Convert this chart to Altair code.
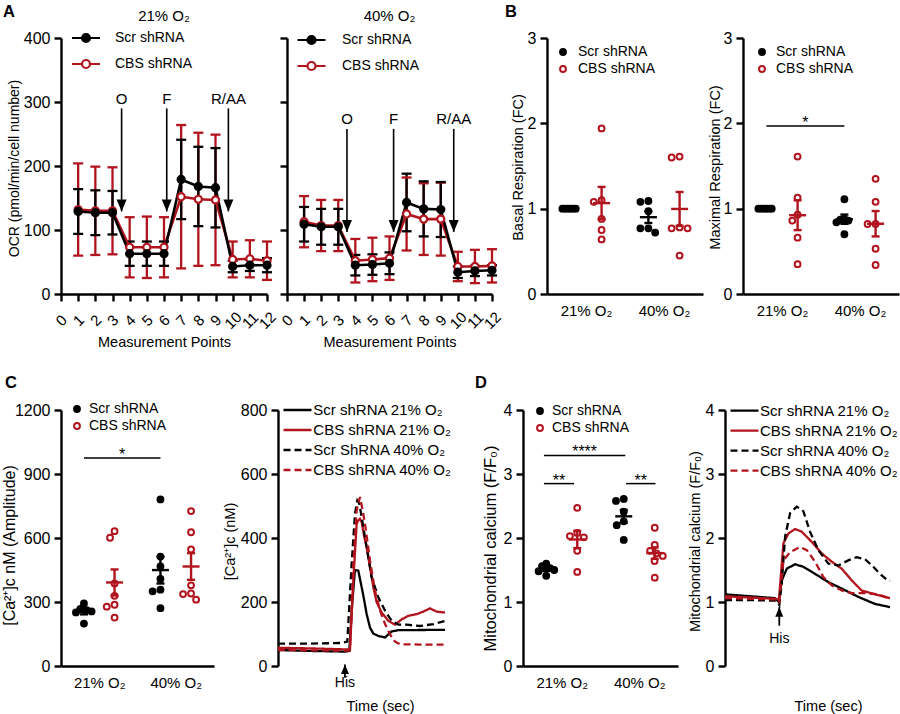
import math
import altair as alt
import pandas as pd

FONT = "Liberation Sans"
RED = "#b2141e"
BLACK = "#000000"
H = 256
GRP = ["Scr shRNA", "CBS shRNA"]
OFF = 0.2

# ---------------- A: OCR (Seahorse) ----------------
meas_points = list(range(1, 13))
ocr21_scr_mean = [129, 127, 127, 63, 63, 63, 179, 168, 166, 43, 45, 45]
ocr21_scr_err = [35, 35, 34, 19, 19, 19, 62, 62, 62, 9, 9, 11]
ocr21_cbs_mean = [132, 130, 130, 73, 73, 73, 152, 148, 147, 54, 55, 52]
ocr21_cbs_err = [72, 69, 68, 47, 48, 47, 112, 104, 102, 28, 29, 30]
ocr40_scr_mean = [109, 105, 105, 45, 46, 48, 143, 133, 132, 34, 36, 37]
ocr40_scr_err = [27, 28, 28, 16, 16, 17, 45, 43, 43, 9, 8, 8]
ocr40_cbs_mean = [113, 107, 107, 52, 54, 56, 125, 117, 117, 43, 43, 44]
ocr40_cbs_err = [40, 40, 40, 34, 34, 34, 57, 56, 57, 23, 26, 26]
inj_labels = ["O", "F", "R/AA"]
inj21_x = [3.53, 6.16, 9.75]
inj40_x = [3.51, 6.24, 9.76]
inj21_top, inj21_tip, inj21_lab = 290, 129, 304
inj40_top, inj40_tip, inj40_lab = 258, 97, 273

# ---------------- B: respiration fold change ----------------
basal_scr21 = [1.0, 1.0, 1.0, 1.0, 1.0, 1.0]
basal_cbs21 = [1.94, 1.10, 1.08, 0.88, 0.75, 0.64]
basal_scr40 = [1.09, 1.08, 0.97, 0.77, 0.77, 0.72]
basal_cbs40 = [1.61, 1.60, 0.78, 0.77, 0.77, 0.45]
max_scr21 = [1.0, 1.0, 1.0, 1.0, 1.0, 1.0]
max_cbs21 = [1.61, 1.13, 0.93, 0.86, 0.66, 0.35]
max_scr40 = [1.11, 0.88, 0.87, 0.86, 0.84, 0.70]
max_cbs40 = [1.35, 1.08, 0.82, 0.82, 0.53, 0.34]

# ---------------- C: cytosolic calcium ----------------
ca_scr21 = [293, 267, 262, 256, 251, 199]
ca_cbs21 = [632, 601, 387, 329, 287, 278, 227]
ca_scr40 = [781, 513, 467, 408, 358, 350, 271]
ca_cbs40 = [726, 627, 546, 378, 340, 337, 311]

c_scr21_t = [0, 20, 40, 42.7, 44.5, 46.1, 48.1, 49.1, 51.1, 53.1, 55.1, 57.1, 60.1, 64.1, 66.1, 68.1, 72.1, 100]
c_scr21_v = [50, 47, 45, 47, 200, 300, 298, 272, 220, 162, 120, 101, 94, 89, 99, 108, 112, 113]
c_cbs21_t = [0, 20, 40, 43.1, 45.1, 47.1, 48.1, 49.1, 50.1, 51.7, 53.1, 55.1, 57.1, 59.1, 62.1, 66.1, 70.1, 74.1, 78.1, 83, 87, 91, 95, 100]
c_cbs21_v = [57, 55, 52, 52, 267, 444, 455, 460, 450, 402, 371, 308, 246, 199, 167, 141, 129, 146, 157, 162, 170, 180, 170, 167]
c_scr40_t = [0, 20, 38, 41.5, 44.1, 46.1, 47.5, 48.7, 50.1, 53.1, 56.1, 60.1, 64.1, 68.1, 72.1, 77.1, 85, 93.1, 100]
c_scr40_v = [70, 70, 72, 76, 319, 476, 517, 507, 465, 371, 277, 214, 173, 141, 129, 129, 125, 131, 141]
c_cbs40_t = [0, 20, 40, 43.1, 45.1, 47.1, 49.1, 50.7, 52.1, 55.1, 58.1, 61.1, 64.1, 67.1, 70.1, 73.1, 85, 100]
c_cbs40_v = [50, 49, 48, 49, 319, 486, 528, 486, 444, 329, 235, 173, 131, 99, 76, 68, 67, 67]
c_names = ["Scr shRNA 21% O₂", "CBS shRNA 21% O₂", "Scr ShRNA 40% O₂", "CBS shRNA 40% O₂"]
c_his = (40.1, 5, -37, -53)

# ---------------- D: mitochondrial calcium ----------------
mito_scr21 = [1.60, 1.56, 1.53, 1.50, 1.48, 1.41]
mito_cbs21 = [2.47, 2.08, 2.03, 2.01, 1.80, 1.47]
mito_scr40 = [2.61, 2.58, 2.41, 2.26, 2.20, 1.97]
mito_cbs40 = [2.16, 1.89, 1.80, 1.76, 1.72, 1.64, 1.38]

d_scr21_t = [0, 10, 20, 29.9, 32.3, 34, 37, 41.9, 46.9, 53.9, 61.9, 69.9, 79.8, 89.8, 98.8]
d_scr21_v = [1.12, 1.10, 1.08, 1.06, 1.0, 1.34, 1.52, 1.59, 1.55, 1.44, 1.31, 1.21, 1.08, 0.97, 0.92]
d_cbs21_t = [0, 15, 30, 32.3, 35, 38, 41.9, 45.9, 51.9, 57.9, 63.9, 69.9, 75.8, 81.8, 89.8, 98.8]
d_cbs21_v = [1.09, 1.07, 1.05, 1.04, 1.92, 2.07, 2.14, 2.10, 1.94, 1.76, 1.63, 1.52, 1.34, 1.18, 1.12, 1.06]
d_scr40_t = [0, 15, 30, 32.5, 34, 36, 39, 43, 46.9, 50.9, 55.9, 61.9, 67.9, 73.8, 78.8, 83.8, 88.8, 92.8, 96.8, 98.8]
d_scr40_v = [1.03, 1.03, 1.02, 0.95, 1.3, 2.02, 2.39, 2.49, 2.42, 2.10, 1.81, 1.60, 1.57, 1.65, 1.70, 1.67, 1.55, 1.44, 1.35, 1.33]
d_cbs40_t = [0, 15, 30, 32.5, 35, 39, 45, 49, 53.9, 58.9, 63.9, 69.9, 75.8, 83.8, 91.8, 98.8]
d_cbs40_v = [1.06, 1.05, 1.04, 1.0, 1.65, 1.78, 1.86, 1.81, 1.63, 1.39, 1.26, 1.18, 1.14, 1.14, 1.12, 1.05]
d_names = ["Scr shRNA 21% O₂", "CBS shRNA 21% O₂", "Scr shRNA 40% O₂", "CBS shRNA 40% O₂"]
d_his = (32.5, 0.92, 0.63, 0.42)

ARROW_DOWN = "M-1,-1.2L1,-1.2L0,1.2Z"
ARROW_UP = "M-1,1.2L1,1.2L0,-1.2Z"
SYM_LINE_DOT = "M-2.8,0L-0.8,0M0.8,0L2.8,0M0.8,0A0.8,0.8,0,1,1,-0.8,0A0.8,0.8,0,1,1,0.8,0Z"
SYM_LINE = "M-2.8,0L2.8,0"


def legend(lx, ly, stype, ssize, sw, loff, rpad, fs=14):
    return alt.Legend(orient="none", legendX=lx, legendY=ly, title=None,
                      symbolType=stype, symbolSize=ssize, symbolStrokeWidth=sw,
                      labelOffset=loff, rowPadding=rpad, padding=0,
                      labelFont=FONT, labelFontSize=fs, labelColor="black",
                      labelLimit=300)


def label_text(text, x, y, size=15, weight="normal", align="left", baseline="alphabetic"):
    return alt.Chart(pd.DataFrame({"t": [text]})).mark_text(
        font=FONT, fontSize=size, fontWeight=weight, align=align,
        baseline=baseline, color="black").encode(
        text="t:N", x=alt.value(x), y=alt.value(y))


def yaxis(values, title=None, tx=0, ty=0, tfs=14.5, labels=True, fmt=None):
    kw = dict(values=values, tickSize=7, labelPadding=4)
    if fmt:
        kw["format"] = fmt
    if title is None:
        kw["title"] = None
    else:
        kw.update(title=title, titleX=tx, titleY=ty, titleAngle=270,
                  titleAlign="center", titleBaseline="middle", titleFontSize=tfs)
    if not labels:
        kw["labels"] = False
    return alt.Axis(**kw)


def spacer(w):
    return alt.Chart(pd.DataFrame({"z": [0]})).mark_point(opacity=0).encode(
        x=alt.value(0), y=alt.value(0)).properties(width=w, height=H)


def swarm(vals, ppu, d=8.0, cap=8.0):
    n = len(vals)
    order = sorted(range(n), key=lambda i: -vals[i])
    placed = []
    xs = [0.0] * n
    for i in order:
        y = vals[i] * ppu
        cands = [0.0]
        for px, py in placed:
            dy = abs(py - y)
            if dy < d:
                dx = math.sqrt(d * d - dy * dy)
                cands += [px - dx, px + dx]
        cands.sort(key=lambda c: (round(abs(c), 6), c))
        for c in cands:
            if all((c - px) ** 2 + (y - py) ** 2 >= d * d - 1e-6 for px, py in placed):
                xs[i] = c
                break
        placed.append((xs[i], y))
    m = max(abs(x) for x in xs)
    if m > cap:
        xs = [x * cap / m for x in xs]
    return xs


def ocr_panel(scr_m, scr_e, cbs_m, cbs_e, W, inj_x, top, tip, laby, title,
              yax, leg, extra):
    rows, caps = [], []
    for grp, m, e, col in [(GRP[1], cbs_m, cbs_e, RED), (GRP[0], scr_m, scr_e, BLACK)]:
        for p, mm, ee in zip(meas_points, m, e):
            rows.append(dict(pt=p, mean=mm, lo=mm - ee, hi=mm + ee, grp=grp, col=col))
            caps.append(dict(pt=p, v=mm - ee, col=col))
            caps.append(dict(pt=p, v=mm + ee, col=col))
    df = pd.DataFrame(rows)
    xs = alt.Scale(domain=[0, 12], nice=False)
    ys = alt.Scale(domain=[0, 400], nice=False)
    xax = alt.Axis(values=list(range(13)), title="Measurement Points", titleX=W / 2,
                   titleY=48, titleAlign="center", titleBaseline="middle",
                   labelAngle=-45, labelAlign="center", labelBaseline="middle",
                   labelPadding=19, tickSize=7, labelFontSize=15)
    X = lambda f: alt.X(f, scale=xs, axis=xax)
    Y = lambda f: alt.Y(f, scale=ys, axis=yax)
    err = alt.Chart(df).mark_rule(strokeWidth=2.3).encode(
        x=X("pt:Q"), y=Y("lo:Q"), y2="hi:Q", color=alt.Color("col:N", scale=None))
    cap = alt.Chart(pd.DataFrame(caps)).mark_tick(
        orient="horizontal", size=10, thickness=2.3, opacity=1).encode(
        x=X("pt:Q"), y=Y("v:Q"), color=alt.Color("col:N", scale=None))
    line = alt.Chart(df).mark_line(strokeWidth=2.6).encode(
        x=X("pt:Q"), y=Y("mean:Q"), color=alt.Color("col:N", scale=None), detail="grp:N")
    pts = alt.Chart(df).mark_point(size=50, strokeWidth=2.2, opacity=1).encode(
        x=X("pt:Q"), y=Y("mean:Q"),
        stroke=alt.Stroke("grp:N", scale=alt.Scale(domain=GRP, range=[BLACK, RED]), legend=leg),
        fill=alt.Fill("grp:N", scale=alt.Scale(domain=GRP, range=[BLACK, "white"]), legend=leg))
    inj = pd.DataFrame(dict(x=inj_x, top=[top] * 3, tip=[tip] * 3, ly=[laby] * 3, lab=inj_labels))
    shaft = alt.Chart(inj).mark_rule(strokeWidth=1.6, color="black").encode(
        x=X("x:Q"), y=Y("top:Q"), y2="tip:Q")
    head = alt.Chart(inj).mark_point(shape=ARROW_DOWN, filled=True, size=100, opacity=1,
                                     color="black", yOffset=-6).encode(x=X("x:Q"), y=Y("tip:Q"))
    ilab = alt.Chart(inj).mark_text(font=FONT, fontSize=15, baseline="middle", color="black").encode(
        x=X("x:Q"), y=Y("ly:Q"), text="lab:N")
    ttl = label_text(title, W / 2, -22, size=15, align="center", baseline="middle")
    layers = [err, cap, line, pts, shaft, head, ilab, ttl] + extra
    return alt.layer(*layers).properties(width=W, height=H)


def dot_panel(data, W, ymax, yax, leg, sigs, extra):
    xppu = W / 2.0
    yppu = H / ymax
    prow, srow, crow = [], [], []
    for cat, grp, vals in data:
        c = cat + 0.5 + (-OFF if grp == GRP[0] else OFF)
        col = BLACK if grp == GRP[0] else RED
        for v, o in zip(vals, swarm(vals, yppu)):
            prow.append(dict(x=c + o / xppu, v=v, grp=grp))
        n = len(vals)
        m = sum(vals) / n
        sd = math.sqrt(sum((v - m) ** 2 for v in vals) / (n - 1))
        se = sd / math.sqrt(n)
        srow.append(dict(x=c, mean=m, lo=m - se, hi=m + se, col=col))
        crow += [dict(x=c, v=m - se, col=col), dict(x=c, v=m + se, col=col)]
    xs = alt.Scale(domain=[0, 2], nice=False)
    ys = alt.Scale(domain=[0, ymax], nice=False)
    xax = alt.Axis(values=[0.5, 1.5], labelExpr="datum.value < 1 ? '21% O₂' : '40% O₂'",
                   ticks=False, tickSize=0, labelPadding=9, labelAngle=0, title=None,
                   labelFontSize=15)
    X = lambda f: alt.X(f, scale=xs, axis=xax)
    Y = lambda f: alt.Y(f, scale=ys, axis=yax)
    pts = alt.Chart(pd.DataFrame(prow)).mark_point(size=34, strokeWidth=2, opacity=1).encode(
        x=X("x:Q"), y=Y("v:Q"),
        stroke=alt.Stroke("grp:N", scale=alt.Scale(domain=GRP, range=[BLACK, RED]), legend=leg),
        fill=alt.Fill("grp:N", scale=alt.Scale(domain=GRP, range=[BLACK, "white"]), legend=leg))
    sdf = pd.DataFrame(srow)
    sem = alt.Chart(sdf).mark_rule(strokeWidth=2.4).encode(
        x=X("x:Q"), y=Y("lo:Q"), y2="hi:Q", color=alt.Color("col:N", scale=None))
    mean = alt.Chart(sdf).mark_tick(orient="horizontal", size=17, thickness=2.4, opacity=1).encode(
        x=X("x:Q"), y=Y("mean:Q"), color=alt.Color("col:N", scale=None))
    cap = alt.Chart(pd.DataFrame(crow)).mark_tick(orient="horizontal", size=8, thickness=2.4, opacity=1).encode(
        x=X("x:Q"), y=Y("v:Q"), color=alt.Color("col:N", scale=None))
    layers = [pts, sem, mean, cap]
    if sigs:
        sg = pd.DataFrame([dict(x1=a, x2=b, xm=(a + b) / 2, y=y, lab=l) for a, b, y, l in sigs])
        layers.append(alt.Chart(sg).mark_rule(strokeWidth=1.5, color="black").encode(
            x=X("x1:Q"), x2="x2:Q", y=Y("y:Q")))
        layers.append(alt.Chart(sg).mark_text(font=FONT, fontSize=16, align="center",
                                              baseline="alphabetic", dy=2, color="black").encode(
            x=X("xm:Q"), y=Y("y:Q"), text="lab:N"))
    return alt.layer(*(layers + extra)).properties(width=W, height=H)


def trace_panel(series, names, W, ymax, yax, leg, his, title_x):
    rows = []
    for (t, v), nm in zip(series, names):
        for tt, vv in zip(t, v):
            rows.append(dict(t=tt, v=vv, s=nm))
    xs = alt.Scale(domain=[0, 100], nice=False)
    ys = alt.Scale(domain=[0, ymax], nice=False)
    xax = alt.Axis(domain=False, ticks=False, labels=False, title="Time (sec)",
                   titleX=title_x, titleY=40, titleAlign="center", titleBaseline="middle")
    X = lambda f: alt.X(f, scale=xs, axis=xax)
    Y = lambda f: alt.Y(f, scale=ys, axis=yax)
    lines = alt.Chart(pd.DataFrame(rows)).mark_line(strokeWidth=2.3).encode(
        x=X("t:Q"), y=Y("v:Q"),
        stroke=alt.Stroke("s:N", scale=alt.Scale(domain=names, range=[BLACK, RED, BLACK, RED]), legend=leg),
        strokeDash=alt.StrokeDash("s:N", scale=alt.Scale(domain=names, range=[[1, 0], [1, 0], [7, 4], [7, 4]]), legend=leg))
    hd = pd.DataFrame(dict(t=[his[0]], tip=[his[1]], tail=[his[2]], ly=[his[3]], lab=["His"]))
    shaft = alt.Chart(hd).mark_rule(strokeWidth=1.8, color="black").encode(
        x=X("t:Q"), y=Y("tail:Q"), y2="tip:Q")
    head = alt.Chart(hd).mark_point(shape=ARROW_UP, filled=True, size=64, opacity=1,
                                    color="black", yOffset=4.8).encode(x=X("t:Q"), y=Y("tip:Q"))
    lab = alt.Chart(hd).mark_text(font=FONT, fontSize=14, baseline="middle", color="black").encode(
        x=X("t:Q"), y=Y("ly:Q"), text="lab:N")
    return alt.layer(lines, shaft, head, lab).properties(width=W, height=H)


# ---------------- build panels ----------------
A1 = ocr_panel(ocr21_scr_mean, ocr21_scr_err, ocr21_cbs_mean, ocr21_cbs_err, 206,
               inj21_x, inj21_top, inj21_tip, inj21_lab, "21% O₂",
               yaxis([0, 100, 200, 300, 400], "OCR (pmol/min/cell number)", -47, 130, tfs=14),
               legend(18, -7, SYM_LINE_DOT, 100, 2.2, 22, 8),
               [label_text("A", -58, -21, size=16.5, weight="bold")])
A2 = ocr_panel(ocr40_scr_mean, ocr40_scr_err, ocr40_cbs_mean, ocr40_cbs_err, 205,
               inj40_x, inj40_top, inj40_tip, inj40_lab, "40% O₂",
               yaxis([0, 100, 200, 300, 400], labels=False),
               legend(17.5, -5, SYM_LINE_DOT, 100, 2.2, 23.5, 8), [])

B1 = dot_panel([(0, GRP[0], basal_scr21), (0, GRP[1], basal_cbs21),
                (1, GRP[0], basal_scr40), (1, GRP[1], basal_cbs40)],
               156, 3, yaxis([0, 1, 2, 3], "Basal Respiration (FC)", -29, 129),
               legend(9, 7, "circle", 34, 2, 8, 3), [],
               [label_text("B", -42, -21, size=16.5, weight="bold")])
B2 = dot_panel([(0, GRP[0], max_scr21), (0, GRP[1], max_cbs21),
                (1, GRP[0], max_scr40), (1, GRP[1], max_cbs40)],
               156, 3, yaxis([0, 1, 2, 3], "Maximal Respiration (FC)", -28, 129),
               legend(12, 7, "circle", 34, 2, 7, 3), [(0.3, 1.3, 1.97, "*")], [])

C1 = dot_panel([(0, GRP[0], ca_scr21), (0, GRP[1], ca_cbs21),
                (1, GRP[0], ca_scr40), (1, GRP[1], ca_cbs40)],
               153, 1200, yaxis([0, 300, 600, 900, 1200], "[Ca²⁺]c nM (Amplitude)", -52, 135, tfs=16, fmt="d"),
               legend(9, -8, "circle", 34, 2, 5, 3), [(0.3, 1.3, 975, "*")],
               [label_text("C", -56, -22, size=16.5, weight="bold")])
C2 = trace_panel([(c_scr21_t, c_scr21_v), (c_cbs21_t, c_cbs21_v), (c_scr40_t, c_scr40_v), (c_cbs40_t, c_cbs40_v)],
                 c_names, 167, 800,
                 yaxis([0, 200, 400, 600, 800], "[Ca²⁺]c (nM)", -48, 131),
                 legend(12, -7.5, SYM_LINE, 100, 2.3, 8.3, 4, fs=15), c_his, 102)

D1 = dot_panel([(0, GRP[0], mito_scr21), (0, GRP[1], mito_cbs21),
                (1, GRP[0], mito_scr40), (1, GRP[1], mito_cbs40)],
               155, 4, yaxis([0, 1, 2, 3, 4], "Mitochondrial calcium (F/F₀)", -33, 138, tfs=16.5),
               legend(10, -6, "circle", 34, 2, 5, 3),
               [(0.27, 1.32, 3.29, "****"), (0.27, 0.66, 2.85, "**"), (1.33, 1.71, 2.85, "**")],
               [label_text("D", -48, -22, size=16.5, weight="bold")])
D2 = trace_panel([(d_scr21_t, d_scr21_v), (d_cbs21_t, d_cbs21_v), (d_scr40_t, d_scr40_v), (d_cbs40_t, d_cbs40_v)],
                 d_names, 167, 4,
                 yaxis([0, 1, 2, 3, 4], "Mitochondrial calcium (F/F₀)", -30, 131),
                 legend(12, -6.8, SYM_LINE, 100, 2.3, 8, 4, fs=15), d_his, 103)

RES_S = dict(stroke="independent", fill="independent", strokeDash="independent")

row1 = alt.hconcat(A1, spacer(20), A2, spacer(55), B1, spacer(40), B2,
                   spacing=0, bounds="flush").resolve_scale(**RES_S).resolve_legend(**RES_S)
row2 = alt.hconcat(C1, spacer(64), C2, spacer(78), D1, spacer(47), D2,
                   spacing=0, bounds="flush").resolve_scale(**RES_S).resolve_legend(**RES_S)

chart = alt.vconcat(row1, row2, spacing=372, bounds="flush").resolve_scale(
    **RES_S).resolve_legend(**RES_S).properties(
    autosize=alt.AutoSizeParams(type="none"),
    padding={"left": 61, "top": 38, "right": 839, "bottom": 676},
    background="white").configure_view(strokeWidth=0).configure_axis(
    domainColor="black", domainWidth=2.4, tickColor="black", tickWidth=2.4,
    labelColor="black", labelFont=FONT, labelFontSize=16, titleFont=FONT,
    titleFontSize=14.5, titleFontWeight="normal", titleColor="black", grid=False,
    labelFlush=False, labelOverlap=False)

chart.save("out.html", embed_options={"renderer": "svg", "actions": False})
